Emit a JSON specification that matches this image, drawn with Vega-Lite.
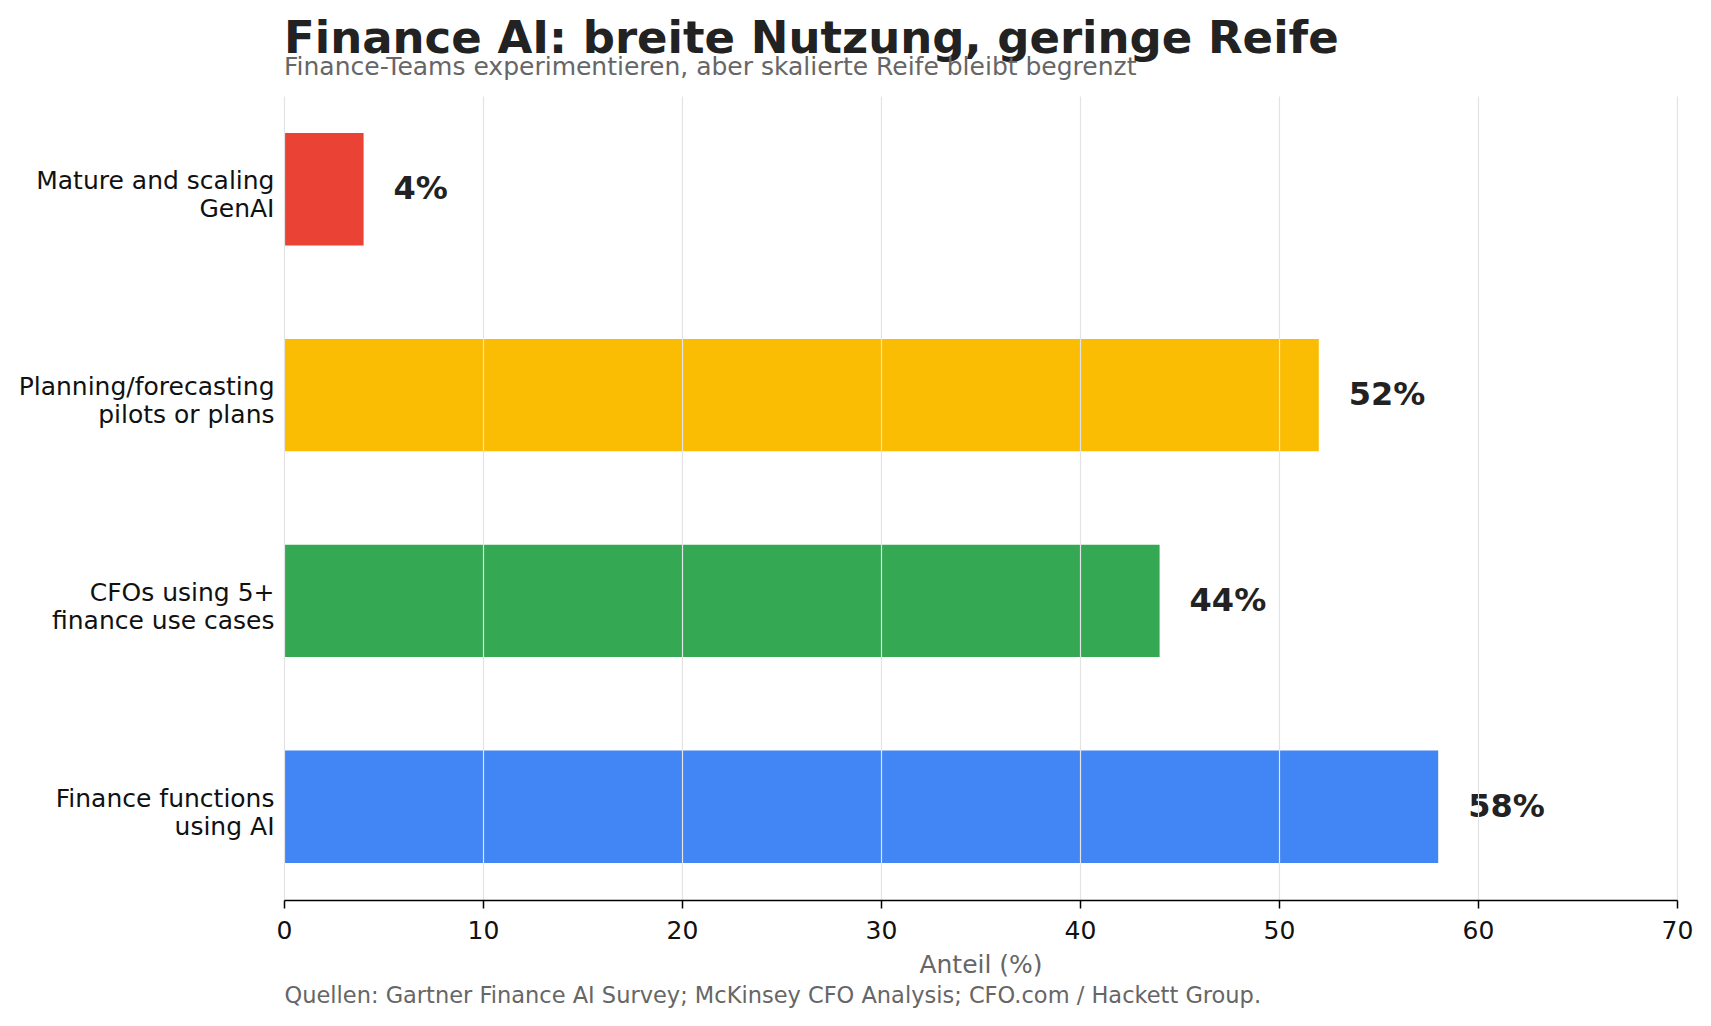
{
  "$schema": "https://vega.github.io/schema/vega-lite/v6.json",
  "width": 1393,
  "height": 804,
  "autosize": {"type": "none"},
  "padding": {"left": 284, "top": 96, "right": 34, "bottom": 126},
  "background": "white",
  "config": {"font": "DejaVu Sans", "view": {"stroke": null}},
  "title": {
    "text": "Finance AI: breite Nutzung, geringe Reife",
    "subtitle": "Finance-Teams experimentieren, aber skalierte Reife bleibt begrenzt",
    "anchor": "start",
    "frame": "group",
    "fontSize": 45,
    "fontWeight": "bold",
    "color": "#222222",
    "subtitleFontSize": 25,
    "subtitleColor": "#666666",
    "subtitlePadding": -7,
    "offset": 16
  },
  "data": {
    "values": [
      {"category": "Mature and scaling\nGenAI", "value": 4, "label": "4%"},
      {"category": "Planning/forecasting\npilots or plans", "value": 52, "label": "52%"},
      {"category": "CFOs using 5+\nfinance use cases", "value": 44, "label": "44%"},
      {"category": "Finance functions\nusing AI", "value": 58, "label": "58%"}
    ]
  },
  "layer": [
    {
      "mark": {"type": "bar"},
      "encoding": {
        "y": {
          "field": "category",
          "type": "nominal",
          "sort": null,
          "scale": {"paddingInner": 0.454, "paddingOuter": 0.18},
          "axis": {
            "title": null,
            "domain": false,
            "ticks": false,
            "grid": false,
            "labelFontSize": 25,
            "labelColor": "#111111",
            "labelPadding": 10,
            "labelLimit": 500,
            "labelLineHeight": 28,
            "labelOffset": -8,
            "labelExpr": "split(datum.label, '\\n')"
          }
        },
        "x": {
          "field": "value",
          "type": "quantitative",
          "scale": {"domain": [0, 70], "nice": false},
          "axis": {
            "values": [0, 10, 20, 30, 40, 50, 60, 70],
            "grid": true,
            "gridColor": "#e3e3e3",
            "gridWidth": 1.2,
            "domainColor": "#000000",
            "domainWidth": 1.5,
            "tickColor": "#000000",
            "tickSize": 8,
            "tickWidth": 1.5,
            "labelFontSize": 25,
            "labelColor": "#111111",
            "labelPadding": 10,
            "labelFlush": false,
            "title": "Anteil (%)",
            "titleFontSize": 25,
            "titleFontWeight": "normal",
            "titleColor": "#666666",
            "titlePadding": 9,
            "zindex": 1
          }
        },
        "color": {
          "field": "category",
          "type": "nominal",
          "legend": null,
          "scale": {
            "domain": ["Mature and scaling\nGenAI", "Planning/forecasting\npilots or plans", "CFOs using 5+\nfinance use cases", "Finance functions\nusing AI"],
            "range": ["#EA4335", "#FBBC04", "#34A853", "#4285F4"]
          }
        }
      }
    },
    {
      "mark": {"type": "text", "align": "left", "baseline": "middle", "dx": 30, "fontSize": 32, "fontWeight": "bold", "color": "#222222"},
      "encoding": {
        "y": {"field": "category", "type": "nominal", "sort": null},
        "x": {
          "field": "value",
          "type": "quantitative",
          "axis": {
            "orient": "bottom",
            "labels": false,
            "ticks": false,
            "domain": false,
            "grid": false,
            "title": "Quellen: Gartner Finance AI Survey; McKinsey CFO Analysis; CFO.com / Hackett Group.",
            "titleAnchor": "start",
            "titleAlign": "left",
            "titleFontSize": 22.5,
            "titleFontWeight": "normal",
            "titleColor": "#666666",
            "titlePadding": 84
          }
        },
        "text": {"field": "label"}
      }
    }
  ],
  "resolve": {"axis": {"x": "independent"}}
}
